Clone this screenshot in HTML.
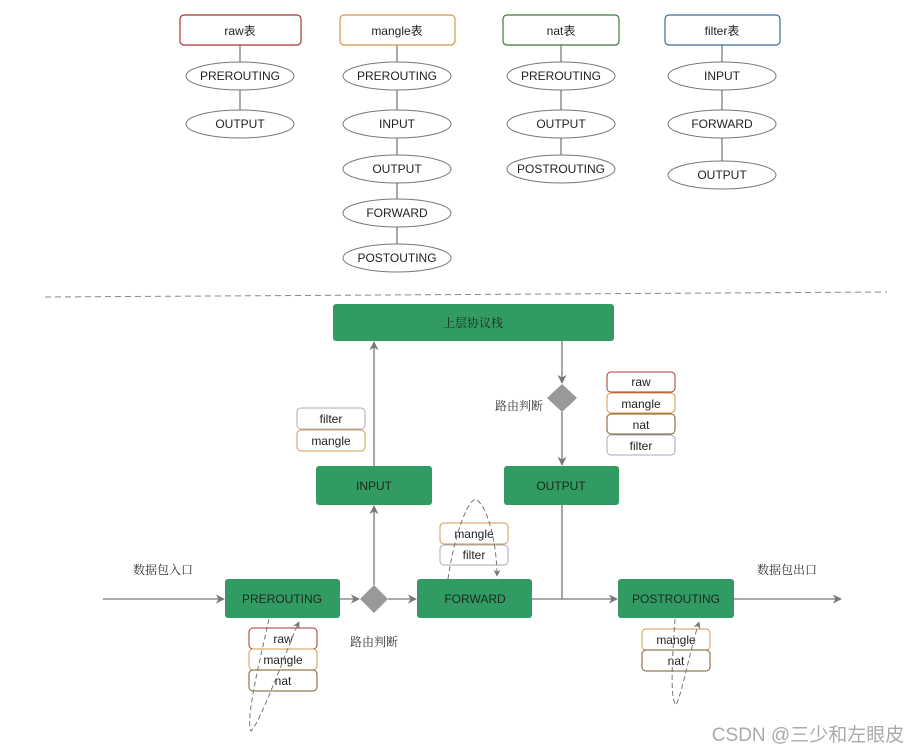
<!DOCTYPE html>
<html><head><meta charset="utf-8"><style>
html,body{margin:0;padding:0;background:#fff;}
svg{display:block;}
text{font-family:"Liberation Sans","Noto Sans CJK SC",sans-serif;}
.cn{font-family:"Noto Serif CJK SC","Noto Sans CJK SC",serif;font-size:12px;fill:#333;}
</style></head><body>
<svg width="919" height="752" viewBox="0 0 919 752" xmlns="http://www.w3.org/2000/svg">
<defs>
<marker id="a" viewBox="0 0 10 10" refX="9" refY="5" markerWidth="7" markerHeight="7" orient="auto"><path d="M0,0 L10,5 L0,10 L3,5 z" fill="#777"/></marker>
</defs>
<g stroke="#555" stroke-width="1" fill="none">
<line x1="240" y1="45" x2="240" y2="124"/>
<line x1="397" y1="45" x2="397" y2="258"/>
<line x1="561" y1="45" x2="561" y2="169"/>
<line x1="722" y1="45" x2="722" y2="175"/>
</g>
<g stroke-width="1.2" fill="#fff">
<rect x="180" y="15" width="121" height="30" rx="4" stroke="#a33"/>
<rect x="340" y="15" width="115" height="30" rx="4" stroke="#d8954a"/>
<rect x="503" y="15" width="116" height="30" rx="4" stroke="#3b7a3b"/>
<rect x="665" y="15" width="115" height="30" rx="4" stroke="#3d6a9e"/>
</g>
<g font-size="12" text-anchor="middle" fill="#222">
<text x="240" y="35">raw表</text><text x="397" y="35">mangle表</text><text x="561" y="35">nat表</text><text x="722" y="35">filter表</text>
</g>
<g stroke="#777" fill="#fff">
<ellipse cx="240" cy="76" rx="54" ry="14"/><ellipse cx="240" cy="124" rx="54" ry="14"/>
<ellipse cx="397" cy="76" rx="54" ry="14"/><ellipse cx="397" cy="124" rx="54" ry="14"/><ellipse cx="397" cy="169" rx="54" ry="14"/><ellipse cx="397" cy="213" rx="54" ry="14"/><ellipse cx="397" cy="258" rx="54" ry="14"/>
<ellipse cx="561" cy="76" rx="54" ry="14"/><ellipse cx="561" cy="124" rx="54" ry="14"/><ellipse cx="561" cy="169" rx="54" ry="14"/>
<ellipse cx="722" cy="76" rx="54" ry="14"/><ellipse cx="722" cy="124" rx="54" ry="14"/><ellipse cx="722" cy="175" rx="54" ry="14"/>
</g>
<g font-size="12" text-anchor="middle" fill="#222">
<text x="240" y="80">PREROUTING</text><text x="240" y="128">OUTPUT</text>
<text x="397" y="80">PREROUTING</text><text x="397" y="128">INPUT</text><text x="397" y="173">OUTPUT</text><text x="397" y="217">FORWARD</text><text x="397" y="262">POSTOUTING</text>
<text x="561" y="80">PREROUTING</text><text x="561" y="128">OUTPUT</text><text x="561" y="173">POSTROUTING</text>
<text x="722" y="80">INPUT</text><text x="722" y="128">FORWARD</text><text x="722" y="179">OUTPUT</text>
</g>
<line x1="45" y1="297" x2="887" y2="292" stroke="#888" stroke-dasharray="6,4"/>
<g stroke="#777" stroke-width="1.3" fill="none">
<line x1="103" y1="599" x2="224" y2="599" marker-end="url(#a)"/>
<line x1="340" y1="599" x2="359" y2="599" marker-end="url(#a)"/>
<line x1="388" y1="599" x2="416" y2="599" marker-end="url(#a)"/>
<line x1="532" y1="599" x2="617" y2="599" marker-end="url(#a)"/>
<line x1="734" y1="599" x2="841" y2="599" marker-end="url(#a)"/>
<line x1="374" y1="585" x2="374" y2="506" marker-end="url(#a)"/>
<line x1="374" y1="466" x2="374" y2="342" marker-end="url(#a)"/>
<line x1="562" y1="341" x2="562" y2="383" marker-end="url(#a)"/>
<line x1="562" y1="412" x2="562" y2="465" marker-end="url(#a)"/>
<line x1="562" y1="505" x2="562" y2="599"/>
</g>
<polygon points="374,585 388,599 374,613 360,599" fill="#999"/>
<polygon points="562,384 577,398 562,412 547,398" fill="#999"/>
<g fill="#329a63">
<rect x="333" y="304" width="281" height="37" rx="3"/>
<rect x="316" y="466" width="116" height="39" rx="3"/>
<rect x="504" y="466" width="115" height="39" rx="3"/>
<rect x="225" y="579" width="115" height="39" rx="3"/>
<rect x="417" y="579" width="115" height="39" rx="3"/>
<rect x="618" y="579" width="116" height="39" rx="3"/>
</g>
<g font-size="12" text-anchor="middle" fill="#1a2a1a">
<text x="473" y="327" class="cn" style="fill:#1a2a1a">上层协议栈</text>
<text x="374" y="490">INPUT</text><text x="561" y="490">OUTPUT</text>
<text x="282" y="603">PREROUTING</text><text x="475" y="603">FORWARD</text><text x="676" y="603">POSTROUTING</text>
</g>
<g fill="#fff" stroke-width="1">
<rect x="297" y="408" width="68" height="21" rx="4" stroke="#aab"/>
<rect x="297" y="430" width="68" height="21" rx="4" stroke="#d8954a"/>
<rect x="607" y="372" width="68" height="20" rx="4" stroke="#a33"/>
<rect x="607" y="393" width="68" height="20" rx="4" stroke="#d8954a"/>
<rect x="607" y="414" width="68" height="20" rx="4" stroke="#7a5a2a"/>
<rect x="607" y="435" width="68" height="20" rx="4" stroke="#aab"/>
<rect x="440" y="523" width="68" height="21" rx="4" stroke="#d8954a"/>
<rect x="440" y="545" width="68" height="20" rx="4" stroke="#aab"/>
<rect x="249" y="628" width="68" height="21" rx="4" stroke="#a33"/>
<rect x="249" y="649" width="68" height="21" rx="4" stroke="#d8954a"/>
<rect x="249" y="670" width="68" height="21" rx="4" stroke="#7a5a2a"/>
<rect x="642" y="629" width="68" height="21" rx="4" stroke="#d8954a"/>
<rect x="642" y="650" width="68" height="21" rx="4" stroke="#7a5a2a"/>
</g>
<g font-size="12" text-anchor="middle" fill="#222">
<text x="331" y="423">filter</text><text x="331" y="445">mangle</text>
<text x="641" y="386">raw</text><text x="641" y="408">mangle</text><text x="641" y="429">nat</text><text x="641" y="450">filter</text>
<text x="474" y="538">mangle</text><text x="474" y="559">filter</text>
<text x="283" y="643">raw</text><text x="283" y="664">mangle</text><text x="283" y="685">nat</text>
<text x="676" y="644">mangle</text><text x="676" y="665">nat</text>
</g>
<g stroke="#777" stroke-dasharray="5,3" fill="none" stroke-width="1">
<path d="M448,579 C455,530 470,495 477,500 C490,510 497,550 497,576" marker-end="url(#a)"/>
<path d="M269,619 C260,660 245,720 251,731 C262,720 290,640 299,622" marker-end="url(#a)"/>
<path d="M675,619 C672,660 670,700 676,705 C683,690 690,650 699,622" marker-end="url(#a)"/>
</g>
<text x="163" y="574" class="cn" text-anchor="middle">数据包入口</text>
<text x="374" y="646" class="cn" text-anchor="middle">路由判断</text>
<text x="519" y="410" class="cn" text-anchor="middle">路由判断</text>
<text x="787" y="574" class="cn" text-anchor="middle">数据包出口</text>
<text x="808" y="741" text-anchor="middle" font-size="19" fill="#aaa" style="font-family:'Liberation Sans','Noto Sans CJK SC',sans-serif">CSDN @三少和左眼皮</text>
</svg>
</body></html>
